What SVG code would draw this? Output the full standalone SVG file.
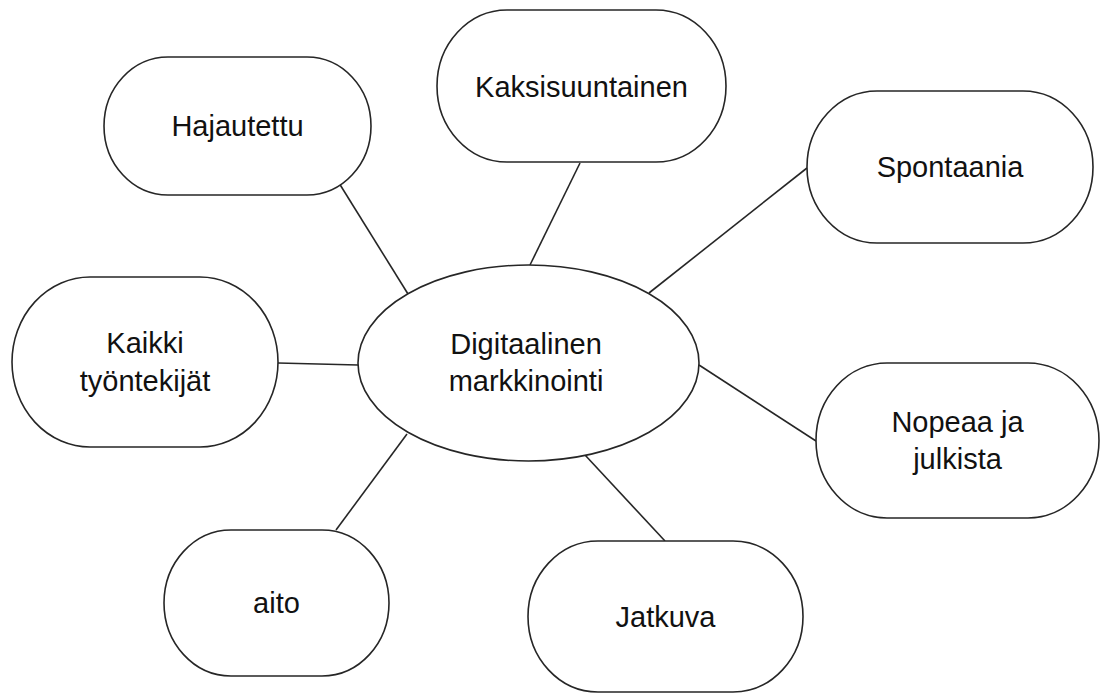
<svg xmlns="http://www.w3.org/2000/svg" width="1105" height="695" viewBox="0 0 1105 695">
<style>
.shape{fill:#fff;stroke:#262626;stroke-width:1.6}
.conn line{stroke:#262626;stroke-width:1.6}
text{font-family:"Liberation Sans",Arial,sans-serif;font-size:29px;fill:#111;text-anchor:middle}
</style>
<rect width="1105" height="695" fill="#fff"/>
<g id="connectors" class="conn">
<line x1="339" y1="183" x2="408" y2="294"/>
<line x1="580" y1="163" x2="530" y2="265"/>
<line x1="807" y1="168" x2="649" y2="293"/>
<line x1="278" y1="363" x2="358" y2="365"/>
<line x1="699" y1="365" x2="816" y2="441"/>
<line x1="407" y1="434" x2="336" y2="530"/>
<line x1="585" y1="455" x2="665" y2="541"/>
</g>
<g id="center">
<ellipse class="shape" cx="528.5" cy="363" rx="170.5" ry="98"/>
<text x="526" y="354">Digitaalinen</text>
<text x="526" y="391">markkinointi</text>
</g>
<g id="hajautettu">
<rect class="shape" x="104" y="57" width="267" height="138" rx="64" ry="69"/>
<text x="237.5" y="136">Hajautettu</text>
</g>
<g id="kaksisuuntainen">
<rect class="shape" x="437" y="10" width="289" height="152" rx="70" ry="76"/>
<text x="581.5" y="97">Kaksisuuntainen</text>
</g>
<g id="spontaania">
<rect class="shape" x="807" y="91" width="286" height="152" rx="70" ry="76"/>
<text x="950" y="177">Spontaania</text>
</g>
<g id="kaikki">
<rect class="shape" x="12" y="277" width="266" height="170" rx="78" ry="85"/>
<text x="145" y="353">Kaikki</text>
<text x="145" y="391">työntekijät</text>
</g>
<g id="nopeaa">
<rect class="shape" x="816" y="363" width="283" height="155" rx="71" ry="77.5"/>
<text x="957.5" y="432">Nopeaa ja</text>
<text x="957.5" y="469">julkista</text>
</g>
<g id="aito">
<rect class="shape" x="164" y="530" width="225" height="146" rx="67" ry="73"/>
<text x="276.5" y="613">aito</text>
</g>
<g id="jatkuva">
<rect class="shape" x="528" y="541" width="275" height="151" rx="70" ry="75.5"/>
<text x="665.5" y="627">Jatkuva</text>
</g>
</svg>
